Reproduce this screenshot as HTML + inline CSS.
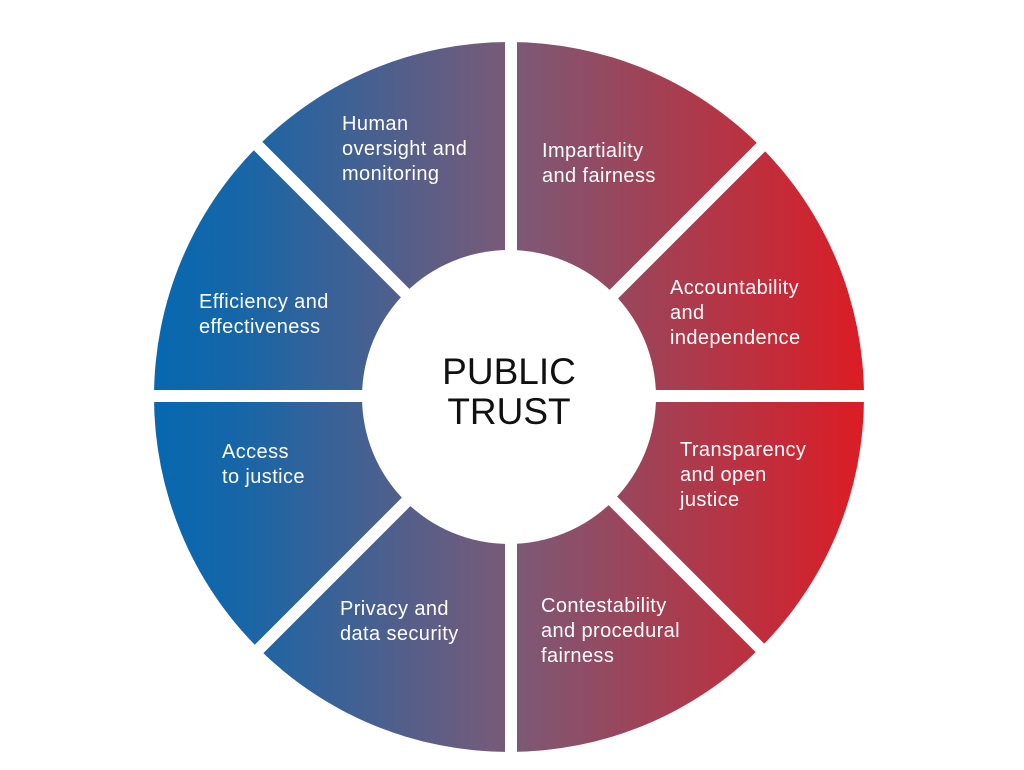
<!DOCTYPE html>
<html><head><meta charset="utf-8"><style>
html,body{margin:0;padding:0;background:#fff;width:1024px;height:770px;overflow:hidden}
svg{display:block}
text{font-family:"Liberation Sans",sans-serif}
.l{fill:#fff;font-size:20px;letter-spacing:0.4px}
</style></head><body>
<svg width="1024" height="770" viewBox="0 0 1024 770">
<defs>
<linearGradient id="g" x1="153" y1="0" x2="865" y2="0" gradientUnits="userSpaceOnUse">
<stop offset="0" stop-color="#0668b0"/>
<stop offset="0.12" stop-color="#1666a8"/>
<stop offset="0.5" stop-color="#7a5a77"/>
<stop offset="1" stop-color="#dc1c24"/>
</linearGradient>
</defs>
<circle cx="509" cy="397" r="355" fill="url(#g)"/>
<g stroke="#fff" stroke-width="12">
<line x1="511" y1="30" x2="511" y2="770"/>
<line x1="140" y1="396" x2="880" y2="396"/>
<line x1="250" y1="138" x2="770" y2="658"/>
<line x1="770" y1="138" x2="250" y2="658"/>
</g>
<circle cx="509" cy="397" r="147" fill="#fff"/>
<text x="509" y="384" text-anchor="middle" font-size="37" fill="#111">PUBLIC</text>
<text x="509" y="424" text-anchor="middle" font-size="37" fill="#111">TRUST</text>
<text class="l"><tspan x="342" y="130">Human</tspan><tspan x="342" y="155">oversight and</tspan><tspan x="342" y="180">monitoring</tspan></text>
<text class="l"><tspan x="542" y="157">Impartiality</tspan><tspan x="542" y="182">and fairness</tspan></text>
<text class="l"><tspan x="670" y="294">Accountability</tspan><tspan x="670" y="319">and</tspan><tspan x="670" y="344">independence</tspan></text>
<text class="l"><tspan x="199" y="308">Efficiency and</tspan><tspan x="199" y="333">effectiveness</tspan></text>
<text class="l"><tspan x="222" y="458">Access</tspan><tspan x="222" y="483">to justice</tspan></text>
<text class="l"><tspan x="680" y="456">Transparency</tspan><tspan x="680" y="481">and open</tspan><tspan x="680" y="506">justice</tspan></text>
<text class="l"><tspan x="340" y="615">Privacy and</tspan><tspan x="340" y="640">data security</tspan></text>
<text class="l"><tspan x="541" y="612">Contestability</tspan><tspan x="541" y="637">and procedural</tspan><tspan x="541" y="662">fairness</tspan></text>
</svg>
</body></html>
